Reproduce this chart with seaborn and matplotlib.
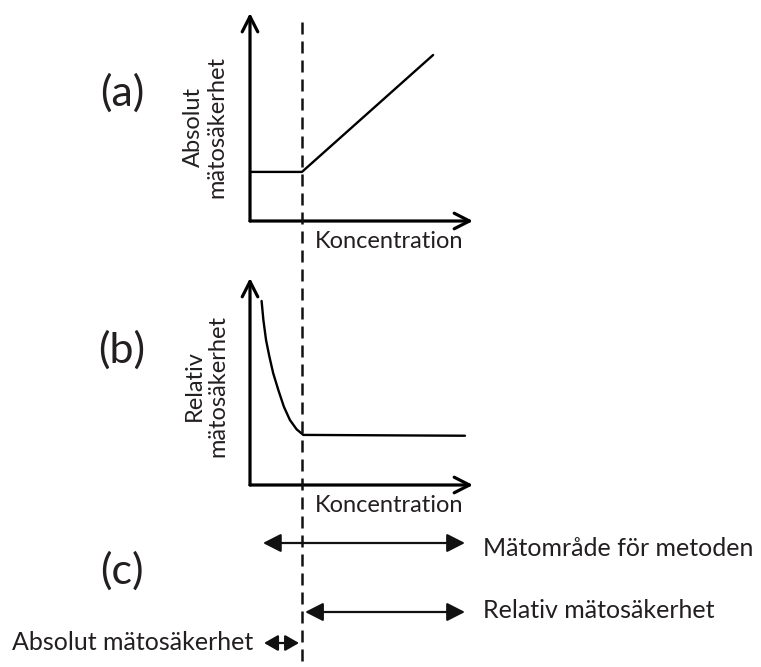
import numpy as np
import pandas as pd
import matplotlib
matplotlib.use("Agg")
import matplotlib.pyplot as plt
import seaborn as sns

sns.set_theme(style="white")
plt.rcParams['font.family'] = ['Lato', 'DejaVu Sans']

# ---- data (schematic, concentration units 0..10) ----
abs_conc = [0.0, 2.33, 8.21]
abs_unc = [2.36, 2.36, 7.98]

rel_conc = [0.52, 0.60, 0.72, 0.87, 1.04, 1.27, 1.52, 1.79, 2.09, 2.39, 9.64]
rel_unc = [8.89, 7.97, 7.00, 6.20, 5.40, 4.59, 3.78, 3.14, 2.69, 2.42, 2.38]

limit_conc = 2.33

panel_labels = ["(a)", "(b)", "(c)"]
y_labels = ["Absolut\nmätosäkerhet", "Relativ\nmätosäkerhet"]
x_label = "Koncentration"
range_labels = ["Mätområde för metoden", "Relativ mätosäkerhet", "Absolut mätosäkerhet"]
range_starts = [0.58, 2.47, 0.63]
range_ends = [9.64, 9.64, 2.20]

W, H = 761, 667
TXT = "#231f20"
fig = plt.figure(figsize=(W / 100, H / 100), dpi=100)

def px_axes(left, right, top, bottom):
    return fig.add_axes([left / W, 1 - bottom / H, (right - left) / W, (bottom - top) / H])

FS = 17
ax_a = px_axes(250, 473, 13, 221)
ax_b = px_axes(250, 473, 278, 485)
ax_c = px_axes(250, 473, 520, 667)
ax_o = fig.add_axes([0, 0, 1, 1])
ax_o.set_xlim(0, W)
ax_o.set_ylim(H, 0)

df_a = pd.DataFrame({"conc": abs_conc, "unc": abs_unc})
df_b = pd.DataFrame({"conc": rel_conc, "unc": rel_unc})
sns.lineplot(data=df_a, x="conc", y="unc", ax=ax_a, color="black", lw=1.7,
             sort=False, estimator=None)
sns.lineplot(data=df_b, x="conc", y="unc", ax=ax_b, color="black", lw=1.7,
             sort=False, estimator=None)

for ax in (ax_a, ax_b):
    ax.set_xlim(0, 10)
    ax.set_ylim(0, 10)
    ax.axis("off")
    ax.patch.set_alpha(0)
    head = dict(arrowstyle="->,head_length=0.55,head_width=0.28", lw=2.3,
                color="black", mutation_scale=20, shrinkA=0, shrinkB=0)
    ax.annotate("", xy=(1, 0), xytext=(0, 0), xycoords="axes fraction",
                textcoords="axes fraction", arrowprops=head)
    ax.annotate("", xy=(0, 1), xytext=(0, 0), xycoords="axes fraction",
                textcoords="axes fraction", arrowprops=head)
    ax.text(0.29, -0.1, x_label, transform=ax.transAxes, fontsize=FS,
            ha="left", va="center", color=TXT)

ax_a.text(-0.2, 0.45, y_labels[0], transform=ax_a.transAxes, rotation=90,
          fontsize=FS, ha="center", va="center", linespacing=1.15, color=TXT)
ax_b.text(-0.195, 0.48, y_labels[1], transform=ax_b.transAxes, rotation=90,
          fontsize=FS, ha="center", va="center", linespacing=1.15, color=TXT)

# panel (c)
ax_c.set_xlim(0, 10)
ax_c.set_ylim(667, 520)
ax_c.axis("off")
ax_c.patch.set_alpha(0)
rows = [543, 612, 643]
heads = ["<|-|>,head_length=0.55,head_width=0.28",
         "<|-|>,head_length=0.55,head_width=0.28",
         "<|-|>,head_length=0.42,head_width=0.24"]
for s, e, y, hs in zip(range_starts, range_ends, rows, heads):
    ax_c.annotate("", xy=(e, y), xytext=(s, y),
                  arrowprops=dict(arrowstyle=hs, lw=1.6, color="#111111",
                                  mutation_scale=20, shrinkA=0, shrinkB=0))

ax_o.axis("off")
ax_o.patch.set_alpha(0)
FS2 = 18
ax_o.text(483, 548, range_labels[0], fontsize=FS2, ha="left", va="center", color=TXT)
ax_o.text(483, 610, range_labels[1], fontsize=FS2, ha="left", va="center", color=TXT)
ax_o.text(253, 643, range_labels[2], fontsize=FS2, ha="right", va="center", color=TXT)

for lab, y in zip(panel_labels, [93, 350, 571]):
    ax_o.text(122, y, lab, fontsize=31, ha="center", va="center", color=TXT)

# dashed detection-limit line (x position from concentration scale of panel a)
xpix = ax_a.transData.transform((limit_conc, 0))[0]
xline = ax_o.transData.inverted().transform((xpix, 0))[0]
ax_o.plot([xline, xline], [22, 667], color="#111111", lw=1.8,
          dashes=(4.8, 2.8))

fig.savefig("out.png", dpi=100)
